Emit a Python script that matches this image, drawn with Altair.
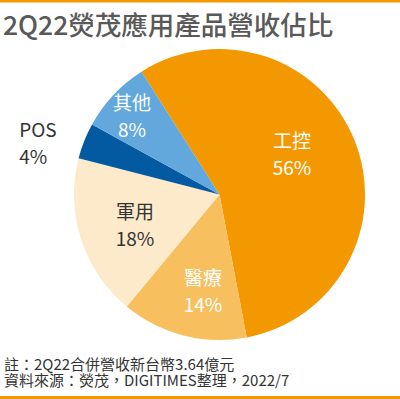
import math
import altair as alt
import pandas as pd

# ---- data ----
categories = ["工控", "醫療", "軍用", "POS", "其他"]
values = [56, 14, 18, 4, 8]
slice_colors = ["#F39800", "#F8BF5F", "#FDEACB", "#045AA0", "#63A8DD"]
title_text = "2Q22熒茂應用產品營收佔比"
note_lines = ["註：2Q22合併營收新台幣3.64億元", "資料來源：熒茂，DIGITIMES整理，2022/7"]

df = pd.DataFrame({"category": categories, "value": values, "order": list(range(len(categories)))})

# ---- layout constants ----
W, H = 400, 399
CX, CY, R = 219.5, 194.5, 145.5
A0 = math.radians(-32.4)
FONT = "Noto Sans CJK TC"
ORANGE = "#F39800"
LH = 27

theta_scale = alt.Scale(domain=[0, 1], range=[A0, A0 + 2 * math.pi])

base = (
    alt.Chart(df)
    .transform_joinaggregate(total="sum(value)")
    .transform_window(cum="sum(value)", sort=[alt.SortField("order")], frame=[None, 0])
    .transform_calculate(
        start="(datum.cum - datum.value) / datum.total",
        end="datum.cum / datum.total",
        mid="(datum.cum - datum.value / 2) / datum.total",
        label='datum.category + "\\n" + datum.value + "%"',
    )
)

pie = base.mark_arc(outerRadius=R, stroke=None).encode(
    x=alt.value(CX),
    y=alt.value(CY),
    theta=alt.Theta("start:Q", scale=theta_scale),
    theta2="end:Q",
    color=alt.Color("category:N", scale=alt.Scale(domain=categories, range=slice_colors), legend=None),
)

# label style per category: radius, dx, dy, color, align
label_style = {
    "工控": (81.6, -3.4, -8.5, "white", "center"),
    "醫療": (99.0, 8.1, 2.1, "white", "center"),
    "軍用": (90.1, 1.2, 3.7, "#333333", "center"),
    "POS": (180.0, -33.0, 15.8, "#333333", "left"),
    "其他": (116.5, -2.6, 2.7, "white", "center"),
}

label_layers = []
for cat, (r, dx, dy, col, al) in label_style.items():
    label_layers.append(
        base.transform_filter(alt.datum.category == cat)
        .mark_text(
            radius=r, dx=dx, dy=dy - LH / 2, color=col, align=al, baseline="middle",
            font=FONT, fontSize=19, lineBreak="\n", lineHeight=LH,
        )
        .encode(
            x=alt.value(CX),
            y=alt.value(CY),
            theta=alt.Theta("mid:Q", scale=theta_scale),
            text="label:N",
        )
    )

title = alt.Chart(pd.DataFrame({"t": [title_text]})).mark_text(
    align="left", baseline="alphabetic", font=FONT, fontSize=26.5, fontWeight=500, color="#595959"
).encode(x=alt.value(3), y=alt.value(35), text="t:N")

notes = alt.Chart(pd.DataFrame({"t": ["\n".join(note_lines)]})).mark_text(
    align="left", baseline="alphabetic", font=FONT, fontSize=15, color="#333333",
    lineBreak="\n", lineHeight=16.5,
).encode(x=alt.value(4), y=alt.value(369.5), text="t:N")

rules_df = pd.DataFrame({"k": [0]})
top_rule = alt.Chart(rules_df).mark_rule(color=ORANGE, strokeWidth=3).encode(
    x=alt.value(0), x2=alt.value(W), y=alt.value(1)
)
bottom_rule = alt.Chart(rules_df).mark_rule(color=ORANGE, strokeWidth=3).encode(
    x=alt.value(0), x2=alt.value(W), y=alt.value(397.5)
)

chart = (
    alt.layer(pie, *label_layers, title, notes, top_rule, bottom_rule)
    .properties(width=W, height=H, autosize=alt.AutoSizeParams(type="none"), padding=0, background="white")
    .configure_view(stroke=None)
)

chart.save("out.html", embed_options={"renderer": "svg", "actions": False})
